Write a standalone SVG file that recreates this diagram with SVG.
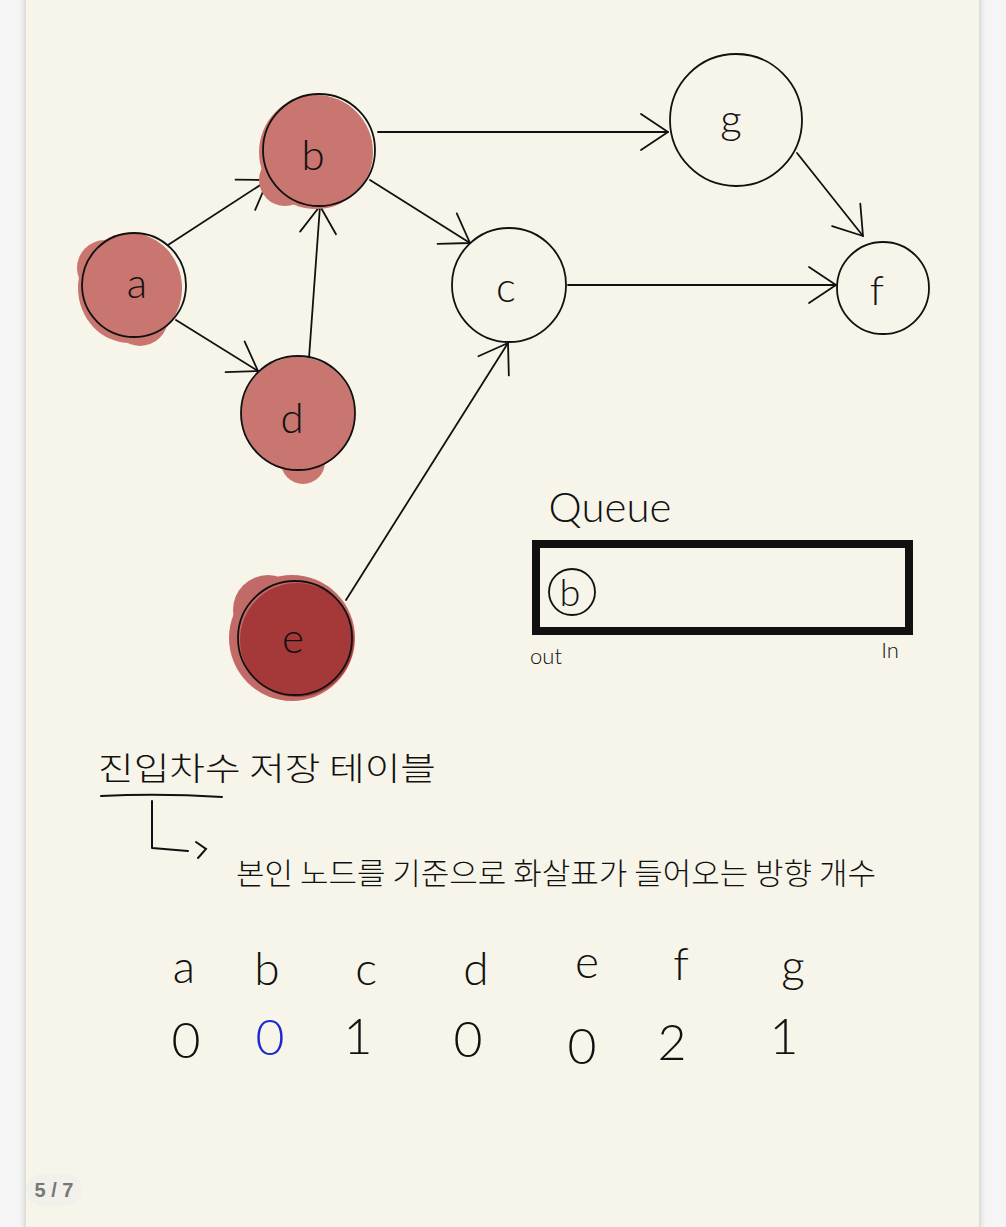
<svg xmlns="http://www.w3.org/2000/svg" width="1006" height="1227" viewBox="0 0 1006 1227">
<defs>
<marker id="arr" markerUnits="userSpaceOnUse" markerWidth="40" markerHeight="40" viewBox="-30 -20 40 40" refX="0" refY="0" orient="auto" overflow="visible">
<path d="M-27,-18 L0,0 L-27,18" fill="none" stroke="#111" stroke-width="1.8" stroke-linecap="round" stroke-linejoin="round"/>
</marker>
<linearGradient id="shL" x1="0" x2="1"><stop offset="0" stop-color="#f4f4f4" stop-opacity="0"/><stop offset="1" stop-color="#d8d8d8"/></linearGradient>
<linearGradient id="shR" x1="0" x2="1"><stop offset="0" stop-color="#d8d8d8"/><stop offset="1" stop-color="#f4f4f4" stop-opacity="0"/></linearGradient>
</defs>
<style>
.node{fill:none;stroke:#111;stroke-width:1.8}
.lbl{font-family:Lato,"Open Sans","Liberation Sans",sans-serif;font-weight:300;fill:#111;text-anchor:middle}
.nl{font-size:42px}
.edge{fill:none;stroke:#111;stroke-width:1.8;stroke-linecap:round}
.ko{font-family:"Noto Sans CJK KR","Noto Sans",sans-serif;font-weight:300;fill:#111}
.blob{fill:#c97570}
.blob2{fill:#a5393a}
.blob2l{fill:#c26a67}
</style>
<rect x="0" y="0" width="1006" height="1227" fill="#f5f5f5"/>
<rect x="18" y="0" width="8" height="1227" fill="url(#shL)"/>
<rect x="979" y="0" width="8" height="1227" fill="url(#shR)"/>
<rect x="26" y="0" width="953" height="1227" fill="#f7f5e9"/>

<g id="connectors">
<line class="edge" x1="168" y1="245" x2="268" y2="180" marker-end="url(#arr)"/>
<line class="edge" x1="176" y1="320" x2="258" y2="371" marker-end="url(#arr)"/>
<line class="edge" x1="309" y1="358" x2="320" y2="206" marker-end="url(#arr)"/>
<line class="edge" x1="378" y1="132" x2="668" y2="132" marker-end="url(#arr)"/>
<line class="edge" x1="370" y1="180" x2="470" y2="243" marker-end="url(#arr)"/>
<line class="edge" x1="568" y1="285" x2="836" y2="285" marker-end="url(#arr)"/>
<line class="edge" x1="797" y1="153" x2="863" y2="236" marker-end="url(#arr)"/>
<line class="edge" x1="346" y1="600" x2="508" y2="343" marker-end="url(#arr)"/>
</g>

<g id="node-a">
<ellipse class="blob" cx="130" cy="288" rx="52" ry="55"/>
<circle class="blob" cx="105" cy="268" r="28"/>
<circle class="blob" cx="140" cy="318" r="28"/>
<circle class="node" cx="134" cy="285" r="52"/>
<text class="lbl nl" x="137" y="298">a</text>
</g>
<g id="node-b">
<circle class="blob" cx="316" cy="152" r="57"/>
<circle class="blob" cx="285" cy="180" r="26"/>
<circle class="node" cx="319" cy="150" r="56"/>
<text class="lbl nl" x="313" y="170">b</text>
</g>
<g id="node-d">
<circle class="blob" cx="298" cy="414" r="57"/>
<circle class="blob" cx="303" cy="462" r="22"/>
<circle class="node" cx="298" cy="413" r="57"/>
<text class="lbl nl" x="292" y="433">d</text>
</g>
<g id="node-c">
<circle class="node" cx="509" cy="285" r="57"/>
<text class="lbl nl" x="506" y="302">c</text>
</g>
<g id="node-g">
<circle class="node" cx="736" cy="120" r="66"/>
<text class="lbl nl" x="731" y="134">g</text>
</g>
<g id="node-f">
<circle class="node" cx="883" cy="288" r="46"/>
<text class="lbl nl" x="877" y="305">f</text>
</g>
<g id="node-e">
<circle class="blob2l" cx="292" cy="638" r="63"/>
<circle class="blob2l" cx="268" cy="610" r="35"/>
<circle class="blob2" cx="297" cy="640" r="57"/>
<circle class="node" cx="295" cy="638" r="57"/>
<text class="lbl nl" x="293" y="653">e</text>
</g>

<g id="queue">
<text class="lbl" x="610" y="522" font-size="42">Queue</text>
<rect x="536" y="544" width="373" height="87" fill="none" stroke="#111" stroke-width="8"/>
<circle cx="572" cy="592" r="23" fill="none" stroke="#111" stroke-width="1.8"/>
<text class="lbl" x="570" y="606" font-size="38">b</text>
<text class="lbl" x="546" y="664" font-size="22">out</text>
<text class="lbl" x="890" y="658" font-size="22">In</text>
</g>

<g id="note">
<text class="ko" x="98" y="780" font-size="32" textLength="338" lengthAdjust="spacingAndGlyphs">진입차수 저장 테이블</text>
<path d="M101,796 Q160,793 222,797" fill="none" stroke="#111" stroke-width="2" stroke-linecap="round"/>
<path d="M152,801 L152,848 L188,851" fill="none" stroke="#111" stroke-width="2" stroke-linecap="round" stroke-linejoin="round"/>
<path d="M196,842 L206,849 L198,858" fill="none" stroke="#111" stroke-width="2" stroke-linecap="round"/>
<text class="ko" x="236" y="884" font-size="30" textLength="640" lengthAdjust="spacingAndGlyphs">본인 노드를 기준으로 화살표가 들어오는 방향 개수</text>
</g>

<g id="table">
<g class="lbl" font-size="46">
<text x="184" y="983">a</text>
<text x="267" y="985">b</text>
<text x="366" y="985">c</text>
<text x="476" y="985">d</text>
<text x="587" y="978">e</text>
<text x="681" y="980">f</text>
<text x="793" y="982">g</text>
</g>
<g class="lbl" font-size="50">
<text x="186" y="1058">0</text>
<text x="270" y="1055" fill="#1a2ad0">0</text>
<text x="358" y="1054">1</text>
<text x="468" y="1057">0</text>
<text x="582" y="1064">0</text>
<text x="672" y="1060">2</text>
<text x="784" y="1054">1</text>
</g>
</g>

<g id="page-indicator">
<rect x="26" y="1174" width="56" height="32" rx="16" fill="#f1f0ea"/>
<text x="54" y="1197" font-family="Liberation Sans, Arial, sans-serif" font-size="20" fill="#777" text-anchor="middle" font-weight="bold">5 / 7</text>
</g>
</svg>
